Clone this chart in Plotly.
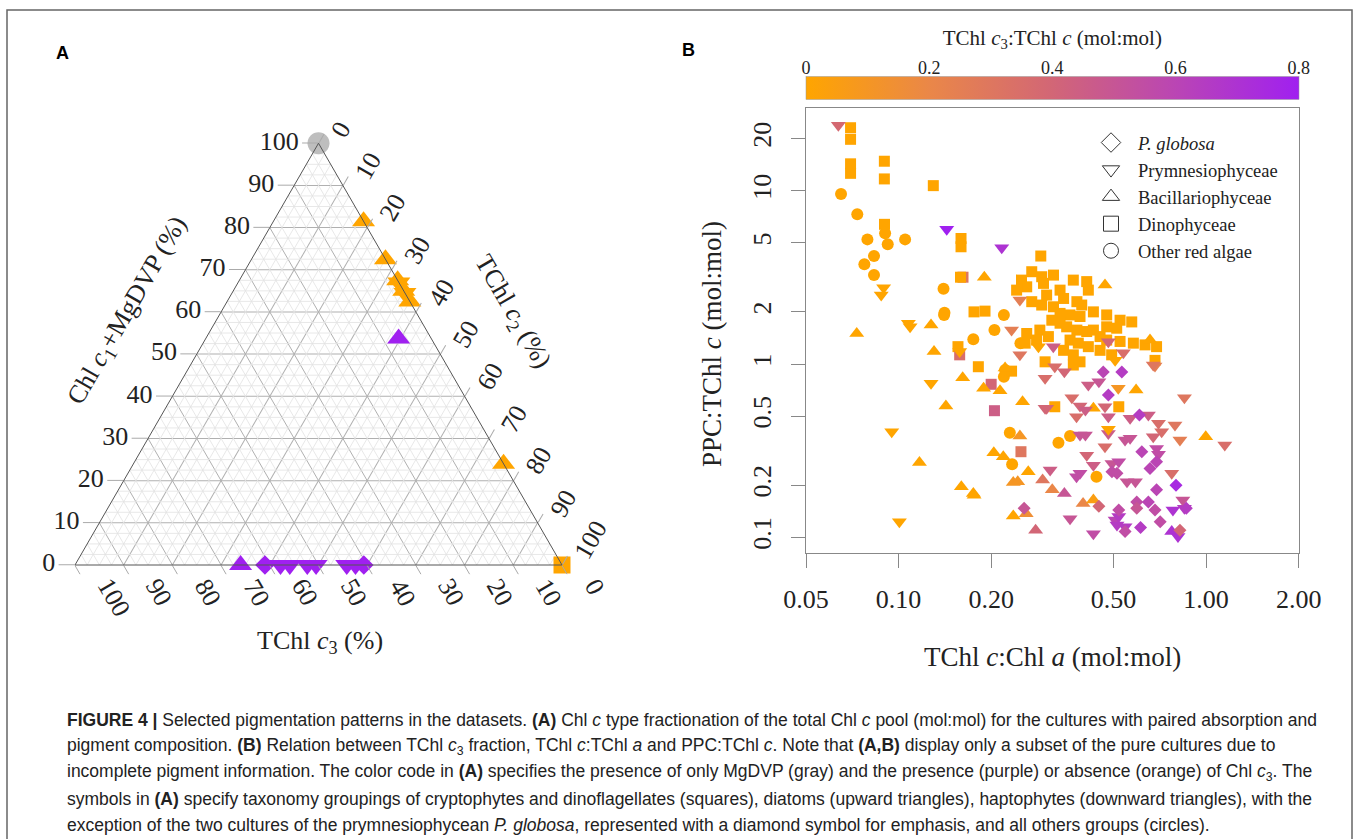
import plotly.graph_objects as go
import numpy as np

W, H = 1358, 839
def PX(x): return x / W
def PY(y): return 1 - y / H

SERIF = "Liberation Serif, DejaVu Serif, serif"
SANS = "Liberation Sans Narrow, Liberation Sans, Arial, sans-serif"
ORANGE = "#FFA500"
PURPLE = "#A020F0"
GRAY = "#BEBEBE"

SYMBOLS = {"P. globosa": "diamond", "Prymnesiophyceae": "triangle-down",
           "Bacillariophyceae": "triangle-up", "Dinophyceae": "square",
           "Other red algae": "circle"}

# ---------------- Panel A (ternary, %) ----------------
A_chl_c1_mgdvp = [100, 81.5, 72.5, 67.5, 67, 65, 64.5, 62.5, 53.7, 24, 0,
                  0, 0, 0, 0, 0, 0, 0, 0, 0]
A_tchl_c3 = [0, 0, 0, 0, 0, 0, 0, 0, 6.7, 0, 0,
             66, 61, 57.8, 55.9, 52.3, 50.5, 44.2, 42.4, 40.7]
A_tchl_c2 = [0, 18.5, 27.5, 32.5, 33, 35, 35.5, 37.5, 39.6, 76, 100,
             34, 39, 42.2, 44.1, 47.7, 49.5, 55.8, 57.6, 59.3]
A_group = ["Other red algae", "Bacillariophyceae", "Bacillariophyceae", "Bacillariophyceae",
           "Prymnesiophyceae", "Bacillariophyceae", "Prymnesiophyceae", "Bacillariophyceae",
           "Bacillariophyceae", "Bacillariophyceae", "Dinophyceae",
           "Bacillariophyceae", "P. globosa", "Prymnesiophyceae", "Prymnesiophyceae",
           "Prymnesiophyceae", "Prymnesiophyceae", "Prymnesiophyceae", "Prymnesiophyceae",
           "P. globosa"]
A_state = ["MgDVP", "absent", "absent", "absent", "absent", "absent", "absent", "absent",
           "present", "absent", "absent",
           "present", "present", "present", "present", "present", "present", "present",
           "present", "present"]
STATE_COLOR = {"MgDVP": GRAY, "absent": ORANGE, "present": PURPLE}
A_SIZE = {"diamond": 15, "triangle-down": 20, "triangle-up": 20, "square": 17, "circle": 22}
tern_ticks = [0, 10, 20, 30, 40, 50, 60, 70, 80, 90, 100]

# ---------------- Panel B (log-log) ----------------
# Dinophyceae (squares): TChl c:Chl a, PPC:TChl c, TChl c3:TChl c
din_x = [0.0698, 0.0698, 0.0698, 0.0698, 0.0899, 0.0899, 0.1297, 0.090, 0.1596, 0.1596,
         0.162, 0.159, 0.29, 0.1759, 0.191, 0.261, 0.2995, 0.156, 0.158, 0.1817,
         0.233, 0.20, 0.205, 0.25, 0.322, 0.52, 0.69,
         0.251, 0.271, 0.292, 0.319, 0.296, 0.261, 0.242, 0.370, 0.409, 0.414,
         0.335, 0.303, 0.344, 0.380, 0.394, 0.271, 0.292, 0.319, 0.335, 0.361,
         0.389, 0.430, 0.475, 0.525, 0.573, 0.475, 0.512, 0.315, 0.335, 0.352,
         0.380, 0.409, 0.430, 0.452, 0.475, 0.525, 0.580, 0.633, 0.361, 0.384,
         0.414, 0.344, 0.370, 0.389, 0.452, 0.493, 0.288, 0.307, 0.258, 0.281,
         0.370, 0.682]
din_y = [23.1, 19.8, 14.3, 12.6, 14.8, 11.7, 10.7, 6.4, 5.3, 4.75,
         3.17, 3.17, 4.2, 2.0, 2.02, 1.5, 1.03, 1.26, 1.13, 0.965,
         0.91, 0.764, 0.538, 0.312, 0.567, 0.567, 1.26,
         3.05, 3.41, 3.19, 3.26, 2.92, 2.79, 2.67, 3.05, 2.99, 2.67,
         2.67, 2.50, 2.39, 2.29, 2.19, 2.29, 2.19, 2.14, 1.96, 1.92,
         1.88, 2.00, 1.92, 1.79, 1.75, 1.64, 1.61, 1.79, 1.72, 1.64,
         1.57, 1.54, 1.57, 1.44, 1.375, 1.35, 1.32, 1.29, 1.375, 1.32,
         1.26, 1.20, 1.13, 1.03, 1.20, 1.13, 1.57, 1.44, 1.32, 1.375,
         0.987, 1.05]
din_c = [0, 0, 0, 0, 0, 0, 0, 0, 0, 0,
         0.30, 0, 0, 0, 0, 0, 0, 0, 0.35, 0,
         0, 0.40, 0.45, 0.30, 0, 0, 0,
         0, 0, 0, 0, 0, 0, 0, 0, 0, 0,
         0, 0, 0, 0, 0, 0, 0, 0, 0, 0,
         0, 0, 0, 0, 0, 0, 0, 0, 0, 0,
         0, 0, 0, 0, 0, 0, 0, 0, 0, 0,
         0, 0, 0, 0, 0, 0, 0, 0, 0, 0,
         0, 0]

# Other red algae (circles)
oth_x = [0.065, 0.0734, 0.0904, 0.0792, 0.0922, 0.105, 0.0832, 0.0774, 0.0832, 0.14,
         0.1406, 0.141, 0.22, 0.205, 0.175, 0.249, 0.22, 0.222, 0.23, 0.234,
         0.331, 0.361, 0.44]
oth_y = [9.57, 7.31, 5.68, 5.24, 4.91, 5.24, 4.2, 3.76, 3.26, 2.72,
         1.92, 1.98, 1.92, 1.57, 1.39, 1.32, 0.845, 0.923, 0.401, 0.264,
         0.351, 0.384, 0.224]
oth_c = [0] * 23

# Bacillariophyceae (upward triangles)
bac_x = [0.19, 0.0731, 0.1275, 0.1304, 0.1616, 0.189, 0.2137, 0.1425, 0.253, 0.1169,
         0.248, 0.204, 0.219, 0.264, 0.294, 0.236, 0.244, 0.16, 0.175, 0.176,
         0.236, 0.26, 0.279, 0.469, 0.657, 0.592, 0.43, 0.997, 0.316, 0.346,
         0.398, 0.43, 0.773, 0.222]
bac_y = [3.17, 1.5, 1.68, 1.18, 0.834, 0.724, 0.701, 0.572, 0.606, 0.27,
         0.384, 0.308, 0.292, 0.239, 0.214, 0.207, 0.209, 0.196, 0.179, 0.175,
         0.133, 0.137, 0.11, 2.86, 1.375, 0.708, 0.555, 0.38, 0.188, 0.179,
         0.157, 0.164, 0.108, 0.95]
bac_c = [0, 0, 0, 0, 0, 0, 0, 0, 0, 0,
         0.10, 0, 0, 0, 0.30, 0.10, 0.10, 0, 0, 0,
         0, 0.15, 0.40, 0, 0, 0, 0, 0, 0.20, 0.50,
         0.20, 0.05, 0.70, 0]

# Prymnesiophyceae (downward triangles)
pry_x = [0.0637, 0.1434, 0.2165, 0.0894, 0.0878, 0.1076, 0.109, 0.233, 0.248, 0.285,
         0.158, 0.1275, 0.2995, 0.095, 0.1006, 0.248,
         0.3185, 0.481, 0.538, 0.682, 0.322, 0.346, 0.2995, 0.414, 0.448, 0.518,
         0.85, 0.366, 0.303, 0.389, 0.405, 0.469, 0.481, 0.379, 0.566, 0.649,
         0.70, 0.792, 0.822, 0.717, 0.673, 1.15, 0.389, 0.405, 0.481, 0.545,
         0.566, 0.69, 0.70, 0.409, 0.469, 0.43, 0.494, 0.52, 0.311, 0.379,
         0.389, 0.773, 0.553, 0.589, 0.361, 0.506, 0.52, 0.78, 0.85, 0.84,
         0.43, 0.81, 0.513, 0.545, 0.506, 0.673, 0.481]
pry_y = [23.9, 5.99, 4.69, 2.76, 2.5, 1.72, 1.64, 1.57, 1.13, 1.26,
         1.18, 0.774, 0.555, 0.407, 0.123, 2.34,
         1.26, 1.345, 1.16, 0.974, 0.965, 0.903, 0.827, 0.756, 0.79, 0.724,
         0.639, 0.639, 0.555, 0.573, 0.543, 0.567, 0.496, 0.496, 0.486, 0.508,
         0.455, 0.445, 0.364, 0.407, 0.38, 0.341, 0.389, 0.389, 0.398, 0.364,
         0.373, 0.326, 0.302, 0.298, 0.333, 0.261, 0.267, 0.273, 0.245, 0.224,
         0.234, 0.234, 0.209, 0.209, 0.128, 0.126, 0.132, 0.144, 0.147, 0.164,
         0.105, 0.101, 0.118, 0.115, 1.05, 0.987, 0.42]
pry_c = [0.38, 0.80, 0.70, 0, 0, 0, 0, 0.25, 0.30, 0,
         0, 0, 0.40, 0, 0, 0.25,
         0.45, 0.40, 0.35, 0.25, 0.35, 0.40, 0.35, 0.45, 0.50, 0.10,
         0.30, 0.35, 0.40, 0.40, 0.45, 0.40, 0.45, 0.35, 0.45, 0.45,
         0.35, 0.30, 0.25, 0.35, 0.40, 0.35, 0.50, 0.50, 0.45, 0.50,
         0.50, 0.55, 0.55, 0.40, 0.35, 0.45, 0.50, 0.55, 0.45, 0.55,
         0.55, 0.35, 0.50, 0.50, 0.50, 0.60, 0.65, 0.70, 0.65, 0.50,
         0.55, 0.70, 0.65, 0.65, 0, 0.30, 0]

# P. globosa (diamonds)
glo_x = [0.463, 0.532, 0.481, 0.607, 0.618, 0.657, 0.69, 0.494, 0.513, 0.69,
         0.798, 0.448, 0.256, 0.52, 0.595, 0.649, 0.595, 0.682, 0.862, 0.709,
         0.612, 0.545, 0.822]
glo_y = [0.90, 0.90, 0.662, 0.508, 0.312, 0.25, 0.273, 0.239, 0.234, 0.188,
         0.20, 0.151, 0.147, 0.144, 0.16, 0.16, 0.147, 0.144, 0.147, 0.123,
         0.114, 0.108, 0.11]
glo_c = [0.60, 0.65, 0.65, 0.65, 0.60, 0.60, 0.60, 0.55, 0.55, 0.60,
         0.75, 0.40, 0.50, 0.55, 0.55, 0.60, 0.50, 0.55, 0.65, 0.55,
         0.65, 0.55, 0.40]

B_groups = [
    ("Other red algae", oth_x, oth_y, oth_c, 12),
    ("Dinophyceae", din_x, din_y, din_c, 11),
    ("Bacillariophyceae", bac_x, bac_y, bac_c, 13),
    ("Prymnesiophyceae", pry_x, pry_y, pry_c, 13),
    ("P. globosa", glo_x, glo_y, glo_c, 10),
]
legend_order = ["P. globosa", "Prymnesiophyceae", "Bacillariophyceae", "Dinophyceae",
                "Other red algae"]
legend_text = {"P. globosa": "<i>P. globosa</i>"}

x_ticks = [0.05, 0.1, 0.2, 0.5, 1.0, 2.0]
x_ticktext = ["0.05", "0.10", "0.20", "0.50", "1.00", "2.00"]
y_ticks = [0.1, 0.2, 0.5, 1, 2, 5, 10, 20]
y_ticktext = ["0.1", "0.2", "0.5", "1", "2", "5", "10", "20"]
cb_ticks = [0, 0.2, 0.4, 0.6, 0.8]
cb_ticktext = ["0", "0.2", "0.4", "0.6", "0.8"]

colorscale = [[0.0, "#FFA500"], [0.25, "#EA8748"], [0.5, "#D26676"],
              [0.75, "#BA45B4"], [1.0, "#A020F0"]]

fig = go.Figure()

# ---- ternary minor grid ----
minor = [v for v in np.arange(2.5, 100, 2.5) if abs(v % 10) > 1e-9]
ga, gb, gc = [], [], []
for v in minor:
    ga += [v, v, None]; gb += [100 - v, 0, None]; gc += [0, 100 - v, None]
    ga += [100 - v, 0, None]; gb += [v, v, None]; gc += [0, 100 - v, None]
    ga += [100 - v, 0, None]; gb += [0, 100 - v, None]; gc += [v, v, None]
fig.add_trace(go.Scatterternary(a=ga, b=gb, c=gc, mode="lines",
                                line=dict(color="#e2e2e2", width=0.8),
                                hoverinfo="skip", showlegend=False))

for grp in ["Other red algae", "Dinophyceae", "Bacillariophyceae", "Prymnesiophyceae", "P. globosa"]:
    idx = [i for i, g in enumerate(A_group) if g == grp]
    if not idx:
        continue
    sym = SYMBOLS[grp]
    fig.add_trace(go.Scatterternary(
        a=[A_chl_c1_mgdvp[i] for i in idx], b=[A_tchl_c3[i] for i in idx],
        c=[A_tchl_c2[i] for i in idx], mode="markers", cliponaxis=False,
        marker=dict(symbol=sym, size=A_SIZE[sym],
                    color=[STATE_COLOR[A_state[i]] for i in idx], line=dict(width=0)),
        showlegend=False, name=grp))

# ---- panel B scatter ----
for name, xs, ys, cs, sz in B_groups:
    fig.add_trace(go.Scatter(
        x=xs, y=ys, mode="markers", name=name, showlegend=False,
        xaxis="x", yaxis="y", cliponaxis=False,
        marker=dict(symbol=SYMBOLS[name], size=sz, color=cs, coloraxis="coloraxis",
                    line=dict(width=0))))

for i, name in enumerate(legend_order):
    fig.add_trace(go.Scatter(
        x=[None], y=[None], mode="markers", name=legend_text.get(name, name),
        legendgroup=name, showlegend=True, xaxis="x", yaxis="y",
        marker=dict(symbol=SYMBOLS[name] + "-open", size=15, color="#333",
                    line=dict(width=1, color="#333"))))

# dummy trace that carries the colour-bar label axis
fig.add_trace(go.Scatter(x=[None], y=[None], xaxis="x2", yaxis="y", showlegend=False,
                         hoverinfo="skip"))

axfont = dict(family=SERIF, size=26, color="#222")
tern_axis = dict(min=0, tickmode="array", tickvals=tern_ticks, showgrid=True,
                 gridcolor="#b0b0b0", gridwidth=1, linecolor="#555", linewidth=1,
                 ticks="outside", ticklen=10, tickcolor="#aaa", tickfont=axfont,
                 title=dict(text=""))

# ternary triangle geometry (pixels)
TX0, TX1, TYB = 75.0, 562.0, 565.0
TTOPX, TTOPY = (TX0 + TX1) / 2, TYB - (TX1 - TX0) * np.sqrt(3) / 2

fig.update_layout(
    width=W, height=H, margin=dict(l=0, r=0, t=0, b=0, autoexpand=False),
    paper_bgcolor="white", plot_bgcolor="rgba(0,0,0,0)",
    ternary=dict(
        sum=100, bgcolor="white",
        domain=dict(x=[PX(TX0), PX(TX1)], y=[PY(TYB), PY(TTOPY)]),
        aaxis=dict(tern_axis, tickangle=0, ticklen=16,
                   ticktext=[str(v) for v in tern_ticks]),
        baxis=dict(tern_axis, ticktext=["" for v in tern_ticks]),
        caxis=dict(tern_axis, ticktext=["" for v in tern_ticks]),
    ),
    xaxis=dict(type="log", domain=[PX(806), PX(1298.7)],
               range=[np.log10(0.05), np.log10(2.0)],
               tickvals=x_ticks, ticktext=x_ticktext, ticks="outside", ticklen=14,
               tickcolor="#888", showline=True, mirror=True, linecolor="#888",
               linewidth=1, showgrid=False, zeroline=False, tickfont=axfont,
               ticklabelstandoff=8),
    yaxis=dict(type="log", domain=[PY(553.3), PY(108.3)],
               range=[np.log10(0.0809), np.log10(29.9)],
               tickvals=y_ticks, ticktext=y_ticktext, ticks="outside", ticklen=14,
               tickcolor="#888", showline=True, mirror=True, linecolor="#888",
               linewidth=1, showgrid=False, zeroline=False, tickfont=axfont,
               tickangle=-90, ticklabelstandoff=10),
    xaxis2=dict(domain=[PX(806), PX(1298.7)], range=[0, 0.8], anchor="free",
                position=PY(78), side="top", tickvals=cb_ticks, ticktext=cb_ticktext,
                ticks="", showline=False, showgrid=False, zeroline=False,
                tickfont=dict(family=SERIF, size=18, color="#222"),
                title=dict(text="TChl <i>c</i><sub>3</sub>:TChl <i>c</i> (mol:mol)",
                           font=dict(family=SERIF, size=21, color="#222"), standoff=6)),
    coloraxis=dict(
        colorscale=colorscale, cmin=0, cmax=0.8,
        colorbar=dict(orientation="h", x=PX(806), xanchor="left", y=PY(100),
                      yanchor="bottom", len=492.7, lenmode="pixels", thickness=23,
                      xpad=0, ypad=0, tickvals=cb_ticks, showticklabels=False,
                      ticks="", outlinewidth=0.5, outlinecolor="#999")),
    legend=dict(x=PX(1084), y=PY(124), xanchor="left", yanchor="top",
                bgcolor="rgba(0,0,0,0)", font=dict(family=SERIF, size=18.5, color="#222"),
                traceorder="grouped", tracegroupgap=0, itemwidth=44),
    showlegend=True,
)

ann = []
def add_ann(**kw):
    kw.setdefault("xref", "paper"); kw.setdefault("yref", "paper")
    kw.setdefault("xanchor", "center"); kw.setdefault("yanchor", "middle")
    kw.setdefault("showarrow", False)
    ann.append(kw)

# ternary b (bottom) and c (right) tick labels, placed along the constant-value lines
for v in tern_ticks:
    s = str(v)
    L = 13.0 * len(s)
    # b axis: base on bottom edge, text reads down-right (60 deg)
    bx = TX1 - v / 100 * (TX1 - TX0)
    px_ = bx + 29 + 0.5 * L * 0.5
    py_ = TYB + 16 + 0.5 * L * 0.866
    add_ann(text=s, x=PX(px_), y=PY(py_), textangle=60, font=axfont)
    # c axis: base on right edge, text reads up-right (-60 deg)
    cx = TTOPX + v / 100 * (TX1 - TTOPX)
    cy = TTOPY + v / 100 * (TYB - TTOPY)
    px_ = cx + 19 + 0.5 * L * 0.5
    py_ = cy - 8.5 - 0.5 * L * 0.866
    add_ann(text=s, x=PX(px_), y=PY(py_), textangle=-60, font=axfont)

add_ann(text="<b>A</b>", x=PX(62), y=PY(53),
        font=dict(family="Liberation Sans, Arial, sans-serif", size=18, color="black"))
add_ann(text="<b>B</b>", x=PX(688), y=PY(50),
        font=dict(family="Liberation Sans, Arial, sans-serif", size=18, color="black"))
tfont = dict(family=SERIF, size=26, color="#222")
add_ann(text="Chl <i>c</i><sub>1</sub>+MgDVP (%)", x=PX(128), y=PY(311),
        textangle=-60, font=tfont)
add_ann(text="TChl <i>c</i><sub>2</sub> (%)", x=PX(512), y=PY(312),
        textangle=60, font=tfont)
add_ann(text="TChl <i>c</i><sub>3</sub> (%)", x=PX(320), y=PY(642), font=tfont)
add_ann(text="TChl <i>c</i>:Chl <i>a</i> (mol:mol)", x=PX(1052), y=PY(657),
        font=dict(family=SERIF, size=27, color="#222"))
add_ann(text="PPC:TChl <i>c</i> (mol:mol)", x=PX(712), y=PY(344), textangle=-90,
        font=dict(family=SERIF, size=27, color="#222"))

caption = [
    "<b>FIGURE 4 |</b> Selected pigmentation patterns in the datasets. <b>(A)</b> Chl <i>c</i> type fractionation of the total Chl <i>c</i> pool (mol:mol) for the cultures with paired absorption and",
    "pigment composition. <b>(B)</b> Relation between TChl <i>c</i><sub>3</sub> fraction, TChl <i>c</i>:TChl <i>a</i> and PPC:TChl <i>c</i>. Note that <b>(A,B)</b> display only a subset of the pure cultures due to",
    "incomplete pigment information. The color code in <b>(A)</b> specifies the presence of only MgDVP (gray) and the presence (purple) or absence (orange) of Chl <i>c</i><sub>3</sub>. The",
    "symbols in <b>(A)</b> specify taxonomy groupings of cryptophytes and dinoflagellates (squares), diatoms (upward triangles), haptophytes (downward triangles), with the",
    "exception of the two cultures of the prymnesiophycean <i>P. globosa</i>, represented with a diamond symbol for emphasis, and all others groups (circles).",
]
for i, line in enumerate(caption):
    add_ann(text=line, x=PX(65), y=PY(720 + 26.2 * i), xanchor="left",
            font=dict(family=SANS, size=17.5, color="#222"))
fig.update_layout(annotations=ann)

fig.add_shape(type="rect", xref="paper", yref="paper", x0=PX(7), x1=PX(1352),
              y0=PY(850), y1=PY(10), line=dict(color="#666", width=1.5),
              fillcolor="rgba(0,0,0,0)", layer="below")

fig.write_html("out.html")
